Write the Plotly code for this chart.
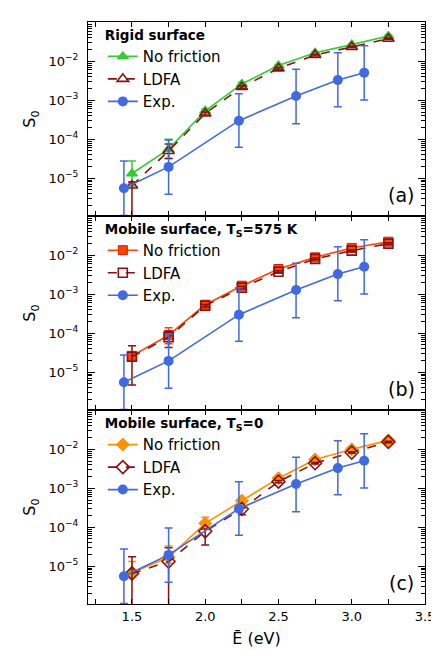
import plotly.graph_objects as go
from plotly.subplots import make_subplots

# ---------------- data ----------------
E_sim = [1.5, 1.75, 2.0, 2.25, 2.5, 2.75, 3.0, 3.25]
E_exp = [1.445, 1.75, 2.23, 2.62, 2.905, 3.085]

exp_S0 = [5.5e-6, 1.95e-5, 3.0e-4, 1.29e-3, 3.3e-3, 5.1e-3]
exp_hi = [2.75e-5, 9.5e-5, 1.48e-3, 6.3e-3, 1.66e-2, 2.5e-2]
exp_lo = [1.1e-6, 3.9e-6, 6.2e-5, 2.5e-4, 6.8e-4, 1.02e-3]

# (a) rigid surface
a_nf = [1.32e-5, 5.6e-5, 5.4e-4, 2.63e-3, 7.8e-3, 1.66e-2, 2.69e-2, 4.47e-2]
a_nf_hi = [2.75e-5, 1.0e-4, 6.0e-4, 2.9e-3, 8.3e-3, 1.74e-2, 2.8e-2, 4.7e-2]
a_nf_lo = [6.3e-6, 3.2e-5, 4.8e-4, 2.4e-3, 7.2e-3, 1.58e-2, 2.57e-2, 4.25e-2]
a_ldfa = [6.5e-6, 5.0e-5, 4.6e-4, 2.19e-3, 6.6e-3, 1.45e-2, 2.34e-2, 3.8e-2]
a_ldfa_hi = [8.0e-6, 7.6e-5, 5.0e-4, 2.35e-3, 7.0e-3, 1.52e-2, 2.45e-2, 3.95e-2]
a_ldfa_lo = [1e-8, 3.2e-5, 4.2e-4, 2.05e-3, 6.2e-3, 1.38e-2, 2.23e-2, 3.65e-2]

# (b) mobile surface, Ts = 575 K
b_nf = [2.63e-5, 8.9e-5, 5.4e-4, 1.66e-3, 4.47e-3, 8.9e-3, 1.55e-2, 2.24e-2]
b_nf_hi = [3.0e-5, 1.38e-4, 5.8e-4, 1.78e-3, 4.7e-3, 9.3e-3, 1.62e-2, 2.34e-2]
b_nf_lo = [2.3e-5, 5.4e-5, 5.0e-4, 1.55e-3, 4.25e-3, 8.5e-3, 1.48e-2, 2.14e-2]
b_ldfa = [2.5e-5, 7.9e-5, 5.1e-4, 1.48e-3, 3.8e-3, 8.1e-3, 1.32e-2, 2.0e-2]
b_ldfa_hi = [4.8e-5, 1.12e-4, 5.5e-4, 1.58e-3, 4.0e-3, 8.5e-3, 1.38e-2, 2.1e-2]
b_ldfa_lo = [4.7e-6, 4.3e-5, 4.7e-4, 1.38e-3, 3.6e-3, 7.7e-3, 1.26e-2, 1.9e-2]

# (c) mobile surface, Ts = 0
c_nf = [6.8e-6, 1.7e-5, 1.26e-4, 4.8e-4, 1.82e-3, 5.5e-3, 1.0e-2, 1.7e-2]
c_nf_hi = [1.32e-5, 3.3e-5, 1.82e-4, 5.3e-4, 1.95e-3, 5.8e-3, 1.05e-2, 1.78e-2]
c_nf_lo = [5.5e-6, 1.2e-5, 1.0e-4, 4.4e-4, 1.7e-3, 5.2e-3, 9.5e-3, 1.62e-2]
c_ldfa = [6.5e-6, 1.32e-5, 7.9e-5, 2.95e-4, 1.48e-3, 4.4e-3, 8.3e-3, 1.55e-2]
c_ldfa_hi = [1.74e-5, 3.0e-5, 9.0e-5, 3.1e-4, 1.58e-3, 4.6e-3, 8.7e-3, 1.62e-2]
c_ldfa_lo = [1e-8, 1e-8, 3.5e-5, 2.1e-4, 1.38e-3, 4.2e-3, 7.9e-3, 1.48e-2]

legend_titles = ["<b>Rigid surface</b>",
                 "<b>Mobile surface, T<sub>S</sub>=575 K</b>",
                 "<b>Mobile surface, T<sub>S</sub>=0</b>"]
panel_labels = ["(a)", "(b)", "(c)"]
y_tickvals = [1e-5, 1e-4, 1e-3, 1e-2]
y_ticktext = ["10<sup>−5</sup>", "10<sup>−4</sup>", "10<sup>−3</sup>", "10<sup>−2</sup>"]

# ---------------- style ----------------
FONT = "DejaVu Sans"
EXP_C = "#4169e1"
LDFA_C = "#8b1010"
NF_COLORS = ["#33cc33", "#ff4500", "#ff9100"]
NF_EDGE = ["#33cc33", "#cc2200", "#ff9100"]
NF_SYM = ["triangle-up", "square", "diamond"]
LDFA_SYM = ["triangle-up-open", "square-open", "diamond-open"]

panels = [
    (a_nf, a_nf_hi, a_nf_lo, a_ldfa, a_ldfa_hi, a_ldfa_lo),
    (b_nf, b_nf_hi, b_nf_lo, b_ldfa, b_ldfa_hi, b_ldfa_lo),
    (c_nf, c_nf_hi, c_nf_lo, c_ldfa, c_ldfa_hi, c_ldfa_lo),
]

fig = make_subplots(rows=3, cols=1, shared_xaxes=True, vertical_spacing=0)

def errs(v, hi, lo):
    return ([h - x for h, x in zip(hi, v)], [x - l for x, l in zip(v, lo)])

legend_names = ["legend", "legend2", "legend3"]
for i, (nf, nfh, nfl, ld, ldh, ldl) in enumerate(panels):
    row = i + 1
    lg = legend_names[i]
    up, dn = errs(nf, nfh, nfl)
    fig.add_trace(go.Scatter(
        x=E_sim, y=nf, name="No friction", mode="lines+markers", legend=lg,
        line=dict(color=NF_COLORS[i], width=1.6),
        marker=dict(symbol=NF_SYM[i], size=10 if i != 1 else 9, color=NF_COLORS[i],
                    line=dict(color=NF_EDGE[i], width=1)),
        error_y=dict(type="data", symmetric=False, array=up, arrayminus=dn,
                     color=NF_COLORS[i], thickness=1.5, width=4),
    ), row=row, col=1)
    up, dn = errs(ld, ldh, ldl)
    fig.add_trace(go.Scatter(
        x=E_sim, y=ld, name="LDFA", mode="lines+markers", legend=lg,
        line=dict(color=LDFA_C, width=1.6, dash="dash"),
        marker=dict(symbol=LDFA_SYM[i], size=10 if i != 1 else 9, color=LDFA_C,
                    line=dict(color=LDFA_C, width=1.6)),
        error_y=dict(type="data", symmetric=False, array=up, arrayminus=dn,
                     color=LDFA_C, thickness=1.5, width=4),
    ), row=row, col=1)
    up, dn = errs(exp_S0, exp_hi, exp_lo)
    fig.add_trace(go.Scatter(
        x=E_exp, y=exp_S0, name="Exp.", mode="lines+markers", legend=lg,
        line=dict(color=EXP_C, width=1.6),
        marker=dict(symbol="circle", size=10, color=EXP_C),
        error_y=dict(type="data", symmetric=False, array=up, arrayminus=dn,
                     color=EXP_C, thickness=1.5, width=4),
    ), row=row, col=1)

minor_y = [k * 10 ** e for e in range(-7, 0) for k in range(2, 10)]

for i in range(3):
    row = i + 1
    fig.update_yaxes(
        type="log", range=[-5.97, -0.99],
        tickvals=y_tickvals, ticktext=y_ticktext,
        ticks="inside", ticklen=7, tickwidth=1, tickcolor="black",
        minor=dict(tickvals=minor_y, ticks="inside", ticklen=4, tickcolor="black", showgrid=False),
        showline=True, linecolor="black", linewidth=1, mirror="ticks",
        showgrid=False, zeroline=False,
        tickfont=dict(family=FONT, size=13, color="black"),
        ticklabelstandoff=6,
        title=dict(text="S<sub>0</sub>", font=dict(family=FONT, size=16, color="black"), standoff=8),
        row=row, col=1)
    fig.update_xaxes(
        range=[1.2, 3.5], dtick=0.5, tick0=1.5,
        ticks="inside", ticklen=5, tickwidth=1, tickcolor="black",
        minor=dict(dtick=0.25, tick0=1.25, ticks="inside", ticklen=5, tickcolor="black", showgrid=False),
        showline=True, linecolor="black", linewidth=1, mirror="ticks",
        showgrid=False, zeroline=False,
        showticklabels=(row == 3), tickformat=".1f",
        tickfont=dict(family=FONT, size=13, color="black"),
        row=row, col=1)
fig.update_xaxes(title=dict(text="Ē (eV)", font=dict(family=FONT, size=16, color="black"), standoff=10),
                 row=3, col=1)

legend_tops = [0.999, 0.666, 0.332]
leg_common = dict(x=0.044, xanchor="left", yanchor="top", bgcolor="rgba(0,0,0,0)",
                  font=dict(family=FONT, size=15, color="black"), itemwidth=30,
                  tracegroupgap=0)
fig.update_layout(
    legend=dict(y=legend_tops[0], title=dict(text=legend_titles[0], font=dict(family=FONT, size=13.5)), **leg_common),
    legend2=dict(y=legend_tops[1], title=dict(text=legend_titles[1], font=dict(family=FONT, size=13.5)), **leg_common),
    legend3=dict(y=legend_tops[2], title=dict(text=legend_titles[2], font=dict(family=FONT, size=13.5)), **leg_common),
)

for i, lab in enumerate(panel_labels):
    ax = "" if i == 0 else str(i + 1)
    fig.add_annotation(text=lab, xref=f"x{ax} domain", yref=f"y{ax} domain",
                       x=0.93, y=0.11, xanchor="center", yanchor="middle", showarrow=False,
                       font=dict(family=FONT, size=19, color="black"))

fig.update_layout(
    width=439, height=649, margin=dict(l=80, r=13, t=14, b=44),
    paper_bgcolor="white", plot_bgcolor="white", showlegend=True,
    font=dict(family=FONT, color="black"),
)

fig.write_html("out.html")
